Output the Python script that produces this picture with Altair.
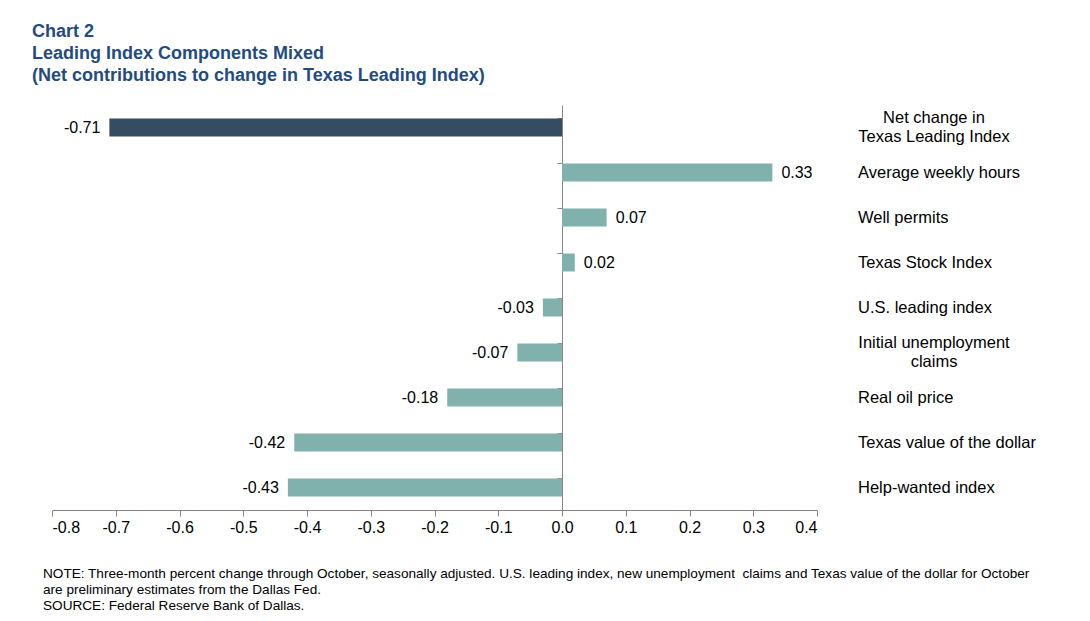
import altair as alt
import pandas as pd

categories = [
    "Net change in\nTexas Leading Index",
    "Average weekly hours",
    "Well permits",
    "Texas Stock Index",
    "U.S. leading index",
    "Initial unemployment\nclaims",
    "Real oil price",
    "Texas value of the dollar",
    "Help-wanted index",
]
values = [-0.71, 0.33, 0.07, 0.02, -0.03, -0.07, -0.18, -0.42, -0.43]
kinds = ["net", "comp", "comp", "comp", "comp", "comp", "comp", "comp", "comp"]
x_ticks = [-0.8, -0.7, -0.6, -0.5, -0.4, -0.3, -0.2, -0.1, 0.0, 0.1, 0.2, 0.3, 0.4]

title_lines = [
    "Chart 2",
    "Leading Index Components Mixed",
    "(Net contributions to change in Texas Leading Index)",
]
note_lines = [
    "NOTE: Three-month percent change through October, seasonally adjusted. U.S. leading index, new unemployment\u00a0 claims and Texas value of the dollar for October",
    "are preliminary estimates from the Dallas Fed.",
    "SOURCE: Federal Reserve Bank of Dallas.",
]

df = pd.DataFrame({
    "cat": categories,
    "value": values,
    "kind": kinds,
    "label": [("-" if v < 0 else "") + f"{abs(v):.2f}" for v in values],
    "multi": ["\n" in c for c in categories],
})

W, H = 765, 405
FONT = "Liberation Sans, Arial, sans-serif"

y_scale = alt.Scale(domain=categories, paddingInner=0.6, paddingOuter=0.3)
x_scale = alt.Scale(domain=[-0.8, 0.4], nice=False, zero=False)

base = alt.Chart(df)

bars = base.mark_bar().encode(
    x=alt.X(
        "value:Q",
        scale=x_scale,
        axis=alt.Axis(
            values=x_ticks,
            labelExpr="(datum.value < -0.00001 ? '-' : '') + format(abs(datum.value), '.1f')",
            title=None,
            grid=False,
            domainColor="#868686",
            tickColor="#868686",
            tickSize=6,
            labelPadding=3,
            labelFontSize=16,
            labelFont=FONT,
            labelColor="#000000",
        ),
    ),
    x2=alt.X2(datum=0),
    y=alt.Y(
        "cat:N",
        scale=y_scale,
        sort=categories,
        axis=alt.Axis(
            orient="left",
            offset=-(W * 0.8 / 1.2),
            labels=False,
            title=None,
            grid=False,
            bandPosition=0,
            domainColor="#868686",
            tickColor="#868686",
            tickSize=5,
        ),
    ),
    color=alt.Color(
        "kind:N",
        scale=alt.Scale(domain=["net", "comp"], range=["#364c61", "#80b1ac"]),
        legend=None,
    ),
)

neg_labels = base.transform_filter("datum.value < 0").mark_text(
    align="right", baseline="middle", dx=-9, fontSize=16, font=FONT, color="#000000"
).encode(
    x=alt.X("value:Q", scale=x_scale),
    y=alt.Y("cat:N", scale=y_scale, sort=categories),
    text="label:N",
)

pos_labels = base.transform_filter("datum.value >= 0").mark_text(
    align="left", baseline="middle", dx=9, fontSize=16, font=FONT, color="#000000"
).encode(
    x=alt.X("value:Q", scale=x_scale),
    y=alt.Y("cat:N", scale=y_scale, sort=categories),
    text="label:N",
)

cat_single = base.transform_filter("!datum.multi").mark_text(
    align="left", baseline="middle", fontSize=16.5, font=FONT, color="#000000"
).encode(
    x=alt.value(W + 41),
    y=alt.Y("cat:N", scale=y_scale, sort=categories),
    text="cat:N",
)

cat_multi = base.transform_filter("datum.multi").mark_text(
    align="center", baseline="middle", fontSize=16.5, font=FONT, color="#000000",
    lineBreak="\n", lineHeight=19.5, dy=-9.75,
).encode(
    x=alt.value(W + 117),
    y=alt.Y("cat:N", scale=y_scale, sort=categories),
    text="cat:N",
)

note_layers = []
for i, line in enumerate(note_lines):
    note_layers.append(
        alt.Chart(pd.DataFrame({"line": [line]})).mark_text(
            align="left", baseline="alphabetic", fontSize=13.6, font=FONT, color="#000000"
        ).encode(
            x=alt.value(-9),
            y=alt.value(472.5 + 16 * i),
            text="line:N",
        )
    )

chart = alt.layer(bars, neg_labels, pos_labels, cat_single, cat_multi, *note_layers).properties(
    width=W,
    height=H,
    title=alt.Title(
        title_lines,
        anchor="start",
        frame="group",
        dx=-20,
        offset=20,
        fontSize=18,
        font=FONT,
        fontWeight="bold",
        color="#234b82",
        lineHeight=22,
    ),
    autosize=alt.AutoSizeParams(type="none"),
    padding={"left": 44, "top": 97, "right": 260, "bottom": 105},
).configure_view(stroke=None)

chart.save("out.html", embed_options={"renderer": "svg", "actions": False})
